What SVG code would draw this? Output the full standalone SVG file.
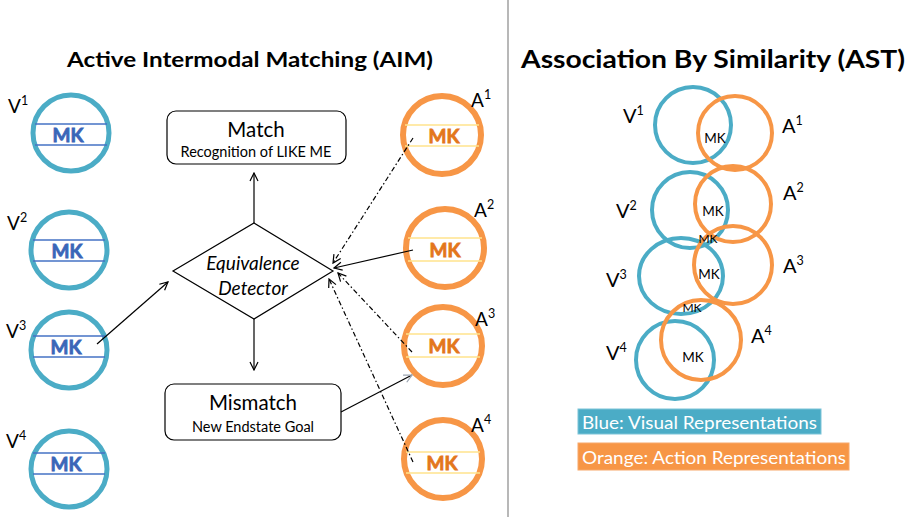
<svg xmlns="http://www.w3.org/2000/svg" width="911" height="517" viewBox="0 0 911 517">
  <style>
    text { font-family: Lato, "Open Sans", "Liberation Sans", sans-serif; fill: #000; }
    .title { font-weight: bold; }
    .vring { fill: #fff; stroke: #4BACC6; stroke-width: 5; }
    .aring { fill: #fff; stroke: #F79646; stroke-width: 6; }
    .vband { stroke: #4472C4; stroke-width: 1.3; }
    .aband { stroke: #FFE38C; stroke-width: 1.5; }
    .mkv { font-weight: bold; font-size: 19px; fill: #3A66B8; stroke: #3A66B8; stroke-width: 0.8; text-anchor: middle; }
    .mka { font-weight: bold; font-size: 19px; fill: #E3761C; stroke: #E3761C; stroke-width: 0.8; text-anchor: middle; }
    .lbl { font-size: 19px; }
    .rl { font-size: 20px; }
    .sup { font-size: 12.5px; }
    .box { fill: #fff; stroke: #000; stroke-width: 1.2; }
    .big { font-size: 20.5px; text-anchor: middle; }
    .small { font-size: 14.5px; text-anchor: middle; }
    .solid { stroke: #000; stroke-width: 1.2; fill: none; }
    .dashdot { stroke: #000; stroke-width: 1.2; fill: none; stroke-dasharray: 5 2.5 1.5 2.5; }
    .vc { fill: none; stroke: #4BACC6; stroke-width: 4; }
    .ac { fill: none; stroke: #F79646; stroke-width: 4; }
    .mk { font-size: 13.5px; text-anchor: middle; }
    .mks { font-size: 12px; text-anchor: middle; }
    .legend { font-size: 18px; fill: #fff; }
  </style>
  <defs>
    <marker id="arrow" markerWidth="10" markerHeight="10" refX="9" refY="5" orient="auto" markerUnits="userSpaceOnUse">
      <path d="M1,1 L9,5 L1,9" fill="none" stroke="#000" stroke-width="1.2"/>
    </marker>
    <marker id="arrowGray" markerWidth="10" markerHeight="10" refX="9" refY="5" orient="auto" markerUnits="userSpaceOnUse">
      <path d="M1,1 L9,5 L1,9" fill="none" stroke="#9aa3b0" stroke-width="1.2"/>
    </marker>
  </defs>

  <rect width="911" height="517" fill="#fff"/>

  <!-- divider between the two panels -->
  <line x1="508" y1="0" x2="508" y2="517" stroke="#a0a0a0" stroke-width="1.5"/>

  <!-- titles -->
  <text class="title" x="250" y="67" font-size="21" text-anchor="middle" textLength="366" lengthAdjust="spacingAndGlyphs">Active Intermodal Matching (AIM)</text>
  <text class="title" x="713" y="68" font-size="25" text-anchor="middle" textLength="384" lengthAdjust="spacingAndGlyphs">Association By Similarity (AST)</text>

  <!-- visual representation nodes -->
  <g id="V1">
    <circle class="vring" cx="71" cy="133" r="38"/>
    <line class="vband" x1="35" y1="124" x2="107" y2="124"/>
    <line class="vband" x1="35" y1="145" x2="107" y2="145"/>
    <text class="mkv" x="68" y="141.5">MK</text>
    <text class="lbl" x="8" y="113">V<tspan class="sup" dy="-8">1</tspan></text>
  </g>
  <g id="V2">
    <circle class="vring" cx="69" cy="250" r="38"/>
    <line class="vband" x1="33" y1="240" x2="105" y2="240"/>
    <line class="vband" x1="33" y1="261" x2="105" y2="261"/>
    <text class="mkv" x="67" y="257.5">MK</text>
    <text class="lbl" x="7" y="230">V<tspan class="sup" dy="-8">2</tspan></text>
  </g>
  <g id="V3">
    <circle class="vring" cx="69" cy="350" r="38"/>
    <line class="vband" x1="33" y1="336" x2="105" y2="336"/>
    <line class="vband" x1="33" y1="357" x2="105" y2="357"/>
    <text class="mkv" x="66" y="353.5">MK</text>
    <text class="lbl" x="6" y="338">V<tspan class="sup" dy="-8">3</tspan></text>
  </g>
  <g id="V4">
    <circle class="vring" cx="69" cy="469" r="38"/>
    <line class="vband" x1="33" y1="453" x2="105" y2="453"/>
    <line class="vband" x1="33" y1="474" x2="105" y2="474"/>
    <text class="mkv" x="66" y="470.5">MK</text>
    <text class="lbl" x="6" y="448">V<tspan class="sup" dy="-8">4</tspan></text>
  </g>

  <!-- action representation nodes -->
  <g id="A1">
    <circle class="aring" cx="442" cy="135" r="39"/>
    <line class="aband" x1="405" y1="125" x2="479" y2="125"/>
    <line class="aband" x1="405" y1="146" x2="479" y2="146"/>
    <text class="mka" x="444" y="142.5">MK</text>
    <text class="lbl" x="471" y="107">A<tspan class="sup" dy="-8">1</tspan></text>
  </g>
  <g id="A2">
    <circle class="aring" cx="445" cy="248" r="39"/>
    <line class="aband" x1="408" y1="238" x2="482" y2="238"/>
    <line class="aband" x1="408" y1="261" x2="482" y2="261"/>
    <text class="mka" x="445" y="256.5">MK</text>
    <text class="lbl" x="474" y="217">A<tspan class="sup" dy="-8">2</tspan></text>
  </g>
  <g id="A3">
    <circle class="aring" cx="443" cy="346" r="39"/>
    <line class="aband" x1="406" y1="334" x2="480" y2="334"/>
    <line class="aband" x1="406" y1="357" x2="480" y2="357"/>
    <text class="mka" x="444" y="352.5">MK</text>
    <text class="lbl" x="475" y="326">A<tspan class="sup" dy="-8">3</tspan></text>
  </g>
  <g id="A4">
    <circle class="aring" cx="443" cy="459" r="39"/>
    <line class="aband" x1="406" y1="452" x2="480" y2="452"/>
    <line class="aband" x1="406" y1="473" x2="480" y2="473"/>
    <text class="mka" x="442" y="469.5">MK</text>
    <text class="lbl" x="471" y="432">A<tspan class="sup" dy="-8">4</tspan></text>
  </g>

  <!-- central decision nodes -->
  <g id="match">
    <rect class="box" x="167" y="111" width="179" height="53" rx="9"/>
    <text class="big" x="256" y="137">Match</text>
    <text class="small" x="256" y="157">Recognition of LIKE ME</text>
  </g>
  <g id="detector">
    <polygon points="254,223 333,271 254,319 173,271" fill="#fff" stroke="#000" stroke-width="1.2"/>
    <text x="253" y="270" font-size="19" font-style="italic" text-anchor="middle">Equivalence</text>
    <text x="253" y="295" font-size="19" font-style="italic" text-anchor="middle">Detector</text>
  </g>
  <g id="mismatch">
    <rect class="box" x="165" y="384" width="176" height="56" rx="9"/>
    <text class="big" x="253" y="410">Mismatch</text>
    <text class="small" x="253" y="432">New Endstate Goal</text>
  </g>

  <!-- connectors -->
  <g id="connectors">
    <line class="solid" x1="254" y1="223" x2="254" y2="173" marker-end="url(#arrow)"/>
    <line class="solid" x1="254" y1="319" x2="254" y2="370" marker-end="url(#arrow)"/>
    <line class="solid" x1="97" y1="344" x2="168" y2="282" marker-end="url(#arrow)"/>
    <line class="solid" x1="413" y1="250" x2="334" y2="268" marker-end="url(#arrow)"/>
    <line class="solid" x1="341" y1="412" x2="412" y2="375" marker-end="url(#arrowGray)"/>
    <line class="dashdot" x1="413" y1="138" x2="333" y2="263" marker-end="url(#arrow)"/>
    <line class="dashdot" x1="412" y1="352" x2="338" y2="273" marker-end="url(#arrow)"/>
    <line class="dashdot" x1="413" y1="462" x2="329" y2="279" marker-end="url(#arrow)"/>
  </g>

  <!-- association by similarity: overlapping pairs -->
  <g id="pair1">
    <circle class="vc" cx="693" cy="125" r="38"/>
    <circle class="ac" cx="735" cy="133" r="37"/>
    <text class="mk" x="715" y="143">MK</text>
    <text class="rl" x="623" y="123">V<tspan class="sup" dy="-8">1</tspan></text>
    <text class="rl" x="782" y="133">A<tspan class="sup" dy="-8">1</tspan></text>
  </g>
  <g id="pair2">
    <circle class="vc" cx="690" cy="210" r="38"/>
    <circle class="ac" cx="733" cy="204" r="38"/>
    <text class="mk" x="713" y="216">MK</text>
    <text class="rl" x="616" y="218">V<tspan class="sup" dy="-8">2</tspan></text>
    <text class="rl" x="783" y="200">A<tspan class="sup" dy="-8">2</tspan></text>
  </g>
  <g id="pair3">
    <ellipse class="vc" cx="681" cy="276" rx="42" ry="38"/>
    <circle class="ac" cx="733" cy="265" r="39"/>
    <text class="mk" x="709" y="279">MK</text>
    <text class="rl" x="606" y="287">V<tspan class="sup" dy="-8">3</tspan></text>
    <text class="rl" x="783" y="273">A<tspan class="sup" dy="-8">3</tspan></text>
  </g>
  <g id="pair4">
    <circle class="vc" cx="675" cy="360" r="39"/>
    <circle class="ac" cx="701" cy="340" r="40"/>
    <text class="mk" x="693" y="362">MK</text>
    <text class="rl" x="606" y="360">V<tspan class="sup" dy="-8">4</tspan></text>
    <text class="rl" x="751" y="343">A<tspan class="sup" dy="-8">4</tspan></text>
  </g>
  <text class="mks" x="708" y="243">MK</text>
  <text class="mks" x="692" y="312">MK</text>

  <!-- legend -->
  <g id="legend-blue">
    <rect x="578" y="409" width="243" height="25" fill="#4BACC6" stroke="#7cc4d8" stroke-width="1"/>
    <text class="legend" x="582" y="429" textLength="235" lengthAdjust="spacingAndGlyphs">Blue: Visual Representations</text>
  </g>
  <g id="legend-orange">
    <rect x="578" y="443" width="271" height="27" fill="#F79646" stroke="#f7a86a" stroke-width="1"/>
    <text class="legend" x="582" y="464" textLength="264" lengthAdjust="spacingAndGlyphs">Orange: Action Representations</text>
  </g>
</svg>
